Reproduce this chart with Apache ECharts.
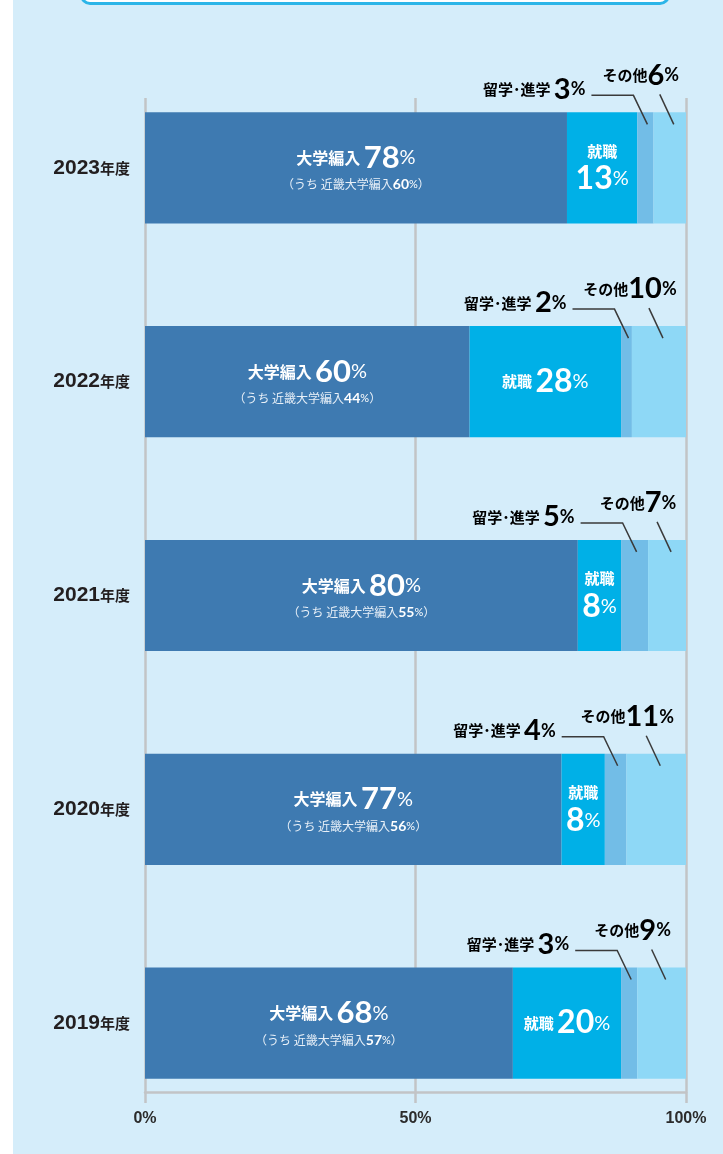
<!DOCTYPE html>
<html>
<head>
    <meta charset="UTF-8">
    <title>卒業後の進路</title>
    <script type="text/javascript" src="https://cdn.jsdelivr.net/npm/echarts@6/dist/echarts.min.js"></script>
    <style>
        body { margin: 0; background: #fff; width: 723px; height: 1154px; position: relative; overflow: hidden; }
        #panel { position: absolute; left: 13px; top: 0; right: 0; bottom: 0; background: #d5edfa; }
        #topbox { position: absolute; left: 80px; top: -20px; width: 584px; height: 19px; border: 3px solid #2cb5e8; border-radius: 10px; background: #fff; }
        #chart { position: absolute; left: 0; top: 0; width: 723px; height: 1154px; }
    </style>
</head>
<body>
<div id="panel"></div>
<div id="topbox"></div>
<div id="chart"></div>
<script type="text/javascript">
    var years = ['2023', '2022', '2021', '2020', '2019'];
    var univ = [78, 60, 80, 77, 68];      // 大学編入
    var kinki = [60, 44, 55, 56, 57];     // うち 近畿大学編入
    var job = [13, 28, 8, 8, 20];         // 就職
    var study = [3, 2, 5, 4, 3];          // 留学・進学
    var other = [6, 10, 7, 11, 9];        // その他
    var xTicks = [0, 50, 100];

    var NUM = 'Lato, "Noto Sans CJK JP", sans-serif';
    var JP = '"Noto Sans CJK JP", sans-serif';
    var HEL = '"Liberation Sans", Arial, "Noto Sans CJK JP", sans-serif';
    var BAR_RATIO = 0.52;

    // callout data: [segment start, segment value, category index]
    var studyCallout = [], otherCallout = [];
    for (var i = 0; i < years.length; i++) {
        studyCallout.push([univ[i] + job[i], study[i], i]);
        otherCallout.push([univ[i] + job[i] + study[i], other[i], i]);
    }

    var calloutRich = {
        a: {fontFamily: JP, fontSize: 15, fontWeight: 'bold', color: '#2a2a2a'},
        b: {fontFamily: NUM, fontSize: 29, fontWeight: 'bold', color: '#231f20'},
        c: {fontFamily: NUM, fontSize: 18, fontWeight: 'bold', color: '#231f20'}
    };

    function segGeom(api) {
        var start = api.value(0), val = api.value(1), cat = api.value(2);
        var c = api.coord([start + val / 2, cat]);
        var band = api.size([0, 1])[1];
        return {cx: c[0], top: c[1] - band * BAR_RATIO / 2, val: val};
    }

    function renderStudy(params, api) {
        var g = segGeom(api);
        var knee = [g.cx - 12, g.top - 17];
        var end = [g.cx + 2, g.top + 12];
        var startH = [knee[0] - 42, knee[1]];
        return {
            type: 'group',
            children: [{
                type: 'polyline',
                shape: {points: [startH, knee, end]},
                style: {stroke: '#3a3a3a', lineWidth: 1.5, fill: null}
            }, {
                type: 'text',
                style: {
                    x: startH[0] - 6, y: g.top - 23,
                    align: 'right', verticalAlign: 'middle',
                    text: '{a|留学･進学} {b|' + g.val + '}{c|%}',
                    rich: calloutRich
                }
            }]
        };
    }

    function renderOther(params, api) {
        var g = segGeom(api);
        var s = [g.cx - 10, g.top - 18];
        var e = [g.cx + 4, g.top + 12];
        return {
            type: 'group',
            children: [{
                type: 'line',
                shape: {x1: s[0], y1: s[1], x2: e[0], y2: e[1]},
                style: {stroke: '#3a3a3a', lineWidth: 1.5}
            }, {
                type: 'text',
                style: {
                    x: g.cx - 29, y: g.top - 37,
                    align: 'center', verticalAlign: 'middle',
                    text: '{a|その他}{b|' + g.val + '}{c|%}',
                    rich: calloutRich
                }
            }]
        };
    }

    var chart = echarts.init(document.getElementById('chart'));
    var option = {
        backgroundColor: 'transparent',
        animation: false,
        grid: [
            {left: 145, right: 37, top: 61, bottom: 24},
            {left: 145, right: 37, top: 98, bottom: 62}
        ],
        xAxis: [{
            type: 'value', gridIndex: 0, min: 0, max: 100, show: false
        }, {
            type: 'value', gridIndex: 1,
            min: xTicks[0], max: xTicks[xTicks.length - 1], interval: xTicks[1] - xTicks[0],
            splitLine: {show: true, lineStyle: {color: '#c2c4c6', width: 2.5}},
            axisLine: {show: true, lineStyle: {color: '#c2c4c6', width: 2.5}},
            axisTick: {show: true, length: 11, lineStyle: {color: '#c2c4c6', width: 2.5}},
            axisLabel: {
                formatter: '{value}%', margin: 19,
                fontFamily: HEL, fontSize: 16, fontWeight: 'bold', color: '#2b2b2b'
            }
        }],
        yAxis: [{
            type: 'category', gridIndex: 0, data: years, inverse: true,
            axisLine: {show: false}, axisTick: {show: false}, splitLine: {show: false},
            axisLabel: {
                margin: 15,
                formatter: function (v) { return '{y|' + v + '}{n|年度}'; },
                rich: {
                    y: {fontFamily: HEL, fontSize: 21, fontWeight: 'bold', color: '#231f20'},
                    n: {fontFamily: JP, fontSize: 15, fontWeight: 'bold', color: '#231f20'}
                }
            }
        }, {
            type: 'value', gridIndex: 1, show: false
        }],
        series: [{
            name: '大学編入', type: 'bar', stack: 'all', barWidth: '52%', data: univ,
            itemStyle: {color: '#3e7ab1'},
            label: {
                show: true, position: 'inside',
                formatter: function (p) {
                    return '{t|大学編入} {n|' + p.value + '}{p|%}\n{s|（うち 近畿大学編入}{sb|' + kinki[p.dataIndex] + '}{sp|%}{s|）}';
                },
                rich: {
                    t: {fontFamily: JP, fontSize: 16, fontWeight: 'bold', color: '#fff', lineHeight: 34},
                    n: {fontFamily: NUM, fontSize: 31, fontWeight: 'bold', color: '#fff', lineHeight: 34},
                    p: {fontFamily: NUM, fontSize: 20, color: '#fff', lineHeight: 34},
                    s: {fontFamily: JP, fontSize: 12, color: '#e8f0f8', lineHeight: 20},
                    sb: {fontFamily: NUM, fontSize: 14, fontWeight: 'bold', color: '#fff', lineHeight: 20},
                    sp: {fontFamily: NUM, fontSize: 11, color: '#fff', lineHeight: 20}
                }
            }
        }, {
            name: '就職', type: 'bar', stack: 'all', data: job,
            itemStyle: {color: '#00b0e7'},
            label: {
                show: true, position: 'inside',
                formatter: function (p) {
                    return p.value >= 20
                        ? '{t|就職} {n|' + p.value + '}{p|%}'
                        : '{t|就職}\n{n|' + p.value + '}{p|%}';
                },
                rich: {
                    t: {fontFamily: JP, fontSize: 15, fontWeight: 'bold', color: '#fff', lineHeight: 22},
                    n: {fontFamily: NUM, fontSize: 32, fontWeight: 'bold', color: '#fff', lineHeight: 34},
                    p: {fontFamily: NUM, fontSize: 20, color: '#fff', lineHeight: 34}
                }
            }
        }, {
            name: '留学・進学', type: 'bar', stack: 'all', data: study,
            itemStyle: {color: '#72bde7'}
        }, {
            name: 'その他', type: 'bar', stack: 'all', data: other,
            itemStyle: {color: '#8ed8f6'}
        }, {
            type: 'custom', name: '留学・進学 注記', data: studyCallout,
            encode: {x: 0, y: 2}, renderItem: renderStudy, z: 5
        }, {
            type: 'custom', name: 'その他 注記', data: otherCallout,
            encode: {x: 0, y: 2}, renderItem: renderOther, z: 5
        }]
    };
    chart.setOption(option);
</script>
</body>
</html>
